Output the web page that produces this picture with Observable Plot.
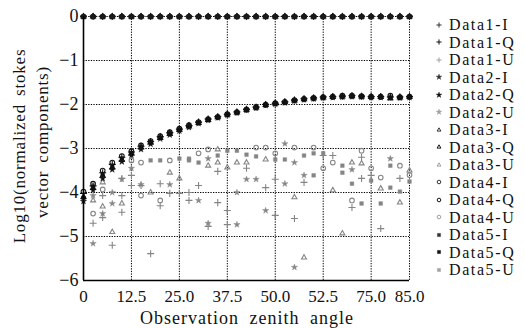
<!DOCTYPE html>
<html>
<head>
<meta charset="utf-8">
<script src="https://cdn.jsdelivr.net/npm/d3@7"></script>
<script src="https://cdn.jsdelivr.net/npm/@observablehq/plot@0.6"></script>
<style>
  html, body { margin: 0; padding: 0; background: #fff; }
  #wrap { position: relative; width: 525px; height: 328px; font-family: "Liberation Serif", "Times New Roman", serif; color: #111; }
  #wrap svg.plot { position: absolute; left: 0; top: 0; }
  .ytitle { position: absolute; white-space: nowrap; font-size: 17px; letter-spacing: 0.8px; word-spacing: 3px; transform: translate(-50%, -50%) rotate(-90deg); }
  #xtitle { position: absolute; left: 247px; top: 318px; transform: translate(-50%, -50%); white-space: nowrap; font-size: 18px; letter-spacing: 1px; word-spacing: 5px; }
  #legend { position: absolute; left: 433px; top: 16px; }
  .row { height: 17.5px; display: flex; align-items: center; overflow: visible; }
  .row svg { width: 12px; height: 12px; margin-right: 4px; flex: none; }
  .row span { font-size: 16px; letter-spacing: 1.6px; line-height: 17.5px; height: 17.5px; }
</style>
</head>
<body>
<div id="wrap"></div>
<script>
// ---- data ----
const angles = [0,2.5,5,7.5,10,12.5,15,17.5,20,22.5,25,27.5,30,32.5,35,37.5,40,42.5,45,47.5,50,52.5,55,57.5,60,62.5,65,67.5,70,72.5,75,77.5,80,82.5,85];
const xTicks = [0,12.5,25,37.5,50,62.5,75,85];
const xTickLabels = ["0","12.5","25.0","37.5","50.0","52.5","75.0","85.0"];
const yTicks = [-6,-5,-4,-3,-2,-1,0];
const seriesNames = ["Data1-I","Data1-Q","Data1-U","Data2-I","Data2-Q","Data2-U","Data3-I","Data3-Q","Data3-U","Data4-I","Data4-Q","Data4-U","Data5-I","Data5-Q","Data5-U"];

// I components (log10 of normalized I) all at 0
const data1I = [0,0,0,0,0,0,0,0,0,0,0,0,0,0,0,0,0,0,0,0,0,0,0,0,0,0,0,0,0,0,0,0,0,0,0];
const data2I = [0,0,0,0,0,0,0,0,0,0,0,0,0,0,0,0,0,0,0,0,0,0,0,0,0,0,0,0,0,0,0,0,0,0,0];
const data3I = [0,0,0,0,0,0,0,0,0,0,0,0,0,0,0,0,0,0,0,0,0,0,0,0,0,0,0,0,0,0,0,0,0,0,0];
const data4I = [0,0,0,0,0,0,0,0,0,0,0,0,0,0,0,0,0,0,0,0,0,0,0,0,0,0,0,0,0,0,0,0,0,0,0];
const data5I = [0,0,0,0,0,0,0,0,0,0,0,0,0,0,0,0,0,0,0,0,0,0,0,0,0,0,0,0,0,0,0,0,0,0,0];

// Q components (rising curve)
const data1Q = [-4.02,-3.85,-3.55,-3.36,-3.2,-3.08,-2.95,-2.84,-2.73,-2.64,-2.56,-2.48,-2.4,-2.33,-2.28,-2.22,-2.17,-2.11,-2.06,-2.0,-1.97,-1.94,-1.9,-1.87,-1.85,-1.83,-1.82,-1.81,-1.8,-1.81,-1.82,-1.82,-1.83,-1.83,-1.82];
const data2Q = [-4.2,-3.95,-3.68,-3.48,-3.3,-3.15,-3.02,-2.9,-2.78,-2.69,-2.6,-2.52,-2.43,-2.36,-2.3,-2.24,-2.19,-2.13,-2.08,-2.02,-1.99,-1.96,-1.92,-1.89,-1.87,-1.85,-1.84,-1.83,-1.82,-1.83,-1.84,-1.84,-1.85,-1.85,-1.84];
const data3Q = [-4.1,-3.9,-3.62,-3.43,-3.26,-3.12,-2.98,-2.87,-2.76,-2.67,-2.58,-2.5,-2.42,-2.35,-2.29,-2.23,-2.18,-2.12,-2.07,-2.01,-1.98,-1.95,-1.91,-1.88,-1.86,-1.84,-1.83,-1.82,-1.81,-1.82,-1.83,-1.83,-1.86,-1.84,-1.83];
const data4Q = [-3.98,-3.8,-3.5,-3.32,-3.17,-3.06,-2.93,-2.83,-2.72,-2.63,-2.55,-2.47,-2.4,-2.33,-2.28,-2.22,-2.17,-2.11,-2.06,-2.0,-1.97,-1.94,-1.9,-1.87,-1.85,-1.83,-1.82,-1.8,-1.8,-1.81,-1.82,-1.82,-1.8,-1.83,-1.82];
const data5Q = [-4.12,-3.88,-3.6,-3.4,-3.23,-3.1,-2.96,-2.85,-2.75,-2.65,-2.57,-2.49,-2.41,-2.34,-2.29,-2.23,-2.18,-2.12,-2.07,-2.01,-1.98,-1.95,-1.91,-1.88,-1.86,-1.84,-1.83,-1.82,-1.81,-1.82,-1.83,-1.83,-1.84,-1.84,-1.83];

// U components (scattered)
const data1UX = [2.5,5,5,7.5,10,10,10,12.5,15,20,22.5,25,27.5,27.5,30,35,35,37.5,37.5,42.5,47.5,50,50,55,57.5,62.5,65,70,72.5,72.5,75,77.5,82.5,20,17.5,32.5,12.5];
const data1UY = [-4.7,-4.07,-4.57,-5.2,-4.07,-4.45,-3.68,-3.84,-3.84,-4.3,-4.02,-4.02,-4.18,-4.0,-3.84,-3.52,-4.23,-4.41,-4.73,-3.45,-3.89,-3.7,-4.52,-4.59,-3.77,-3.16,-3.16,-4.34,-3.2,-3.68,-3.61,-4.82,-3.68,-3.8,-5.39,-4.77,-3.61];
const data2UX = [2.5,2.5,5,7.5,7.5,12.5,15,22.5,30,32.5,32.5,40,40,42.5,45,47.5,52.5,52.5,55,55,57.5,70,80,10];
const data2UY = [-4.07,-5.16,-4.48,-4.25,-4.0,-3.45,-3.82,-3.82,-4.18,-3.23,-4.7,-4.0,-4.73,-3.7,-3.7,-4.41,-2.89,-3.8,-3.32,-5.7,-3.61,-3.48,-3.23,-3.7];
const data3UX = [2.5,5,5,7.5,10,17.5,22.5,25,32.5,35,35,37.5,40,42.5,47.5,55,57.5,65,67.5,70,72.5,77.5,82.5,85];
const data3UY = [-4.18,-3.77,-4.32,-4.9,-4.25,-4.0,-3.55,-3.68,-3.39,-3.02,-3.32,-3.43,-3.32,-3.32,-3.25,-4.11,-5.48,-3.95,-4.93,-3.32,-3.34,-3.91,-4.23,-3.5];
const data4UX = [2.5,5,12.5,15,15,20,22.5,30,32.5,45,47.5,50,55,60,62.5,65,70,72.5,75,77.5,82.5,85];
const data4UY = [-4.48,-3.93,-3.27,-3.32,-4.07,-4.18,-3.27,-3.11,-3.02,-2.98,-2.98,-3.11,-2.98,-2.98,-3.45,-3.32,-4.18,-3.05,-3.45,-3.66,-3.39,-3.6];
const data5UX = [2.5,17.5,20,25,27.5,27.5,30,35,37.5,40,42.5,45,50,52.5,57.5,60,60,62.5,67.5,67.5,70,75,72.5,77.5,80,80,82.5,85];
const data5UY = [-3.84,-3.27,-3.27,-3.23,-3.27,-3.23,-3.32,-3.16,-3.05,-3.05,-3.14,-3.18,-3.25,-3.25,-3.16,-3.11,-3.61,-3.11,-3.39,-3.55,-3.8,-3.73,-4.25,-4.25,-3.39,-3.89,-3.98,-3.75];

// ---- styles (not data) ----
const compColor = {I: "#1a1a1a", Q: "#111111", U: "#858585"};
const dsSymbol = [
  {sym: "plus", d3sym: d3.symbolPlus, filled: false, r: 2.4},
  {sym: "star", d3sym: d3.symbolStar, filled: true, r: 2.0},
  {sym: "triangle2", d3sym: d3.symbolTriangle2, filled: false, r: 2.4},
  {sym: "circle", d3sym: d3.symbolCircle, filled: false, r: 2.3},
  {sym: "square", d3sym: d3.symbolSquare, filled: true, r: 2.1}
];

const Iarr = [data1I, data2I, data3I, data4I, data5I];
const Qarr = [data1Q, data2Q, data3Q, data4Q, data5Q];
const Ux = [data1UX, data2UX, data3UX, data4UX, data5UX];
const Uy = [data1UY, data2UY, data3UY, data4UY, data5UY];

function dotMark(xs, ys, k, comp) {
  const s = dsSymbol[k];
  const c = compColor[comp];
  const rows = xs.map((x, i) => ({x, y: ys[i]}));
  return Plot.dot(rows, {
    x: "x", y: "y", symbol: () => s.sym, r: s.r,
    fill: s.filled ? c : "none",
    stroke: c, strokeWidth: s.filled ? 0.4 : 1.1
  });
}

const marks = [
  Plot.gridX(xTicks, {stroke: "#000", strokeOpacity: 1, strokeWidth: 1, strokeDasharray: "1.3,1.3"}),
  Plot.gridY(yTicks, {stroke: "#000", strokeOpacity: 1, strokeWidth: 1, strokeDasharray: "1.3,1.3"}),
  Plot.axisX(xTicks, {tickSize: 0, tickPadding: 9, fontSize: 17, label: null, tickFormat: (d, i) => xTickLabels[i]}),
  Plot.axisY(yTicks, {tickSize: 0, tickPadding: 5, fontSize: 18, label: null})
];
for (let k = 0; k < 5; k++) marks.push(dotMark(Ux[k], Uy[k], k, "U"));
for (let k = 0; k < 5; k++) marks.push(dotMark(angles, Qarr[k], k, "Q"));
for (let k = 0; k < 5; k++) marks.push(dotMark(angles, Iarr[k], k, "I"));
marks.push(Plot.ruleX([0], {stroke: "#000", strokeWidth: 1.6}));
marks.push(Plot.ruleY([-6], {stroke: "#000", strokeWidth: 1.6}));

const chart = Plot.plot({
  width: 525, height: 328,
  marginLeft: 83, marginRight: 116, marginTop: 16, marginBottom: 48,
  x: {type: "linear", domain: [0, 85]},
  y: {type: "linear", domain: [-6, 0]},
  style: {fontFamily: "Liberation Serif, Times New Roman, serif", fontSize: "17px", background: "transparent", color: "#111", overflow: "visible"},
  marks
});
chart.classList.add("plot");

const wrap = document.getElementById("wrap");
wrap.appendChild(chart);

// y title (two lines)
const yt1 = document.createElement("div");
yt1.className = "ytitle"; yt1.style.left = "20px"; yt1.style.top = "146px";
yt1.textContent = "Log10(normalized stokes";
const yt2 = document.createElement("div");
yt2.className = "ytitle"; yt2.style.left = "43px"; yt2.style.top = "142px";
yt2.textContent = "vector components)";
wrap.appendChild(yt1); wrap.appendChild(yt2);

// x title
const xt = document.createElement("div");
xt.id = "xtitle"; xt.textContent = "Observation zenith angle";
wrap.appendChild(xt);

// legend
const legend = document.createElement("div");
legend.id = "legend";
const comps = ["I", "Q", "U"];
seriesNames.forEach((name, idx) => {
  const k = Math.floor(idx / 3);
  const comp = comps[idx % 3];
  const s = dsSymbol[k];
  const c = comp === "U" ? "#a0a0a0" : (comp === "I" ? "#333" : "#111");
  const row = document.createElement("div");
  row.className = "row";
  const svg = d3.create("svg").attr("width", 12).attr("height", 12);
  svg.append("path")
    .attr("transform", "translate(6,6)")
    .attr("d", d3.symbol(s.d3sym, Math.PI * 1.8 * 1.8)())
    .attr("fill", s.filled ? c : "none")
    .attr("stroke", c)
    .attr("stroke-width", s.filled ? 0.4 : 1);
  row.appendChild(svg.node());
  const span = document.createElement("span");
  span.textContent = name;
  row.appendChild(span);
  legend.appendChild(row);
});
wrap.appendChild(legend);
</script>
</body>
</html>
